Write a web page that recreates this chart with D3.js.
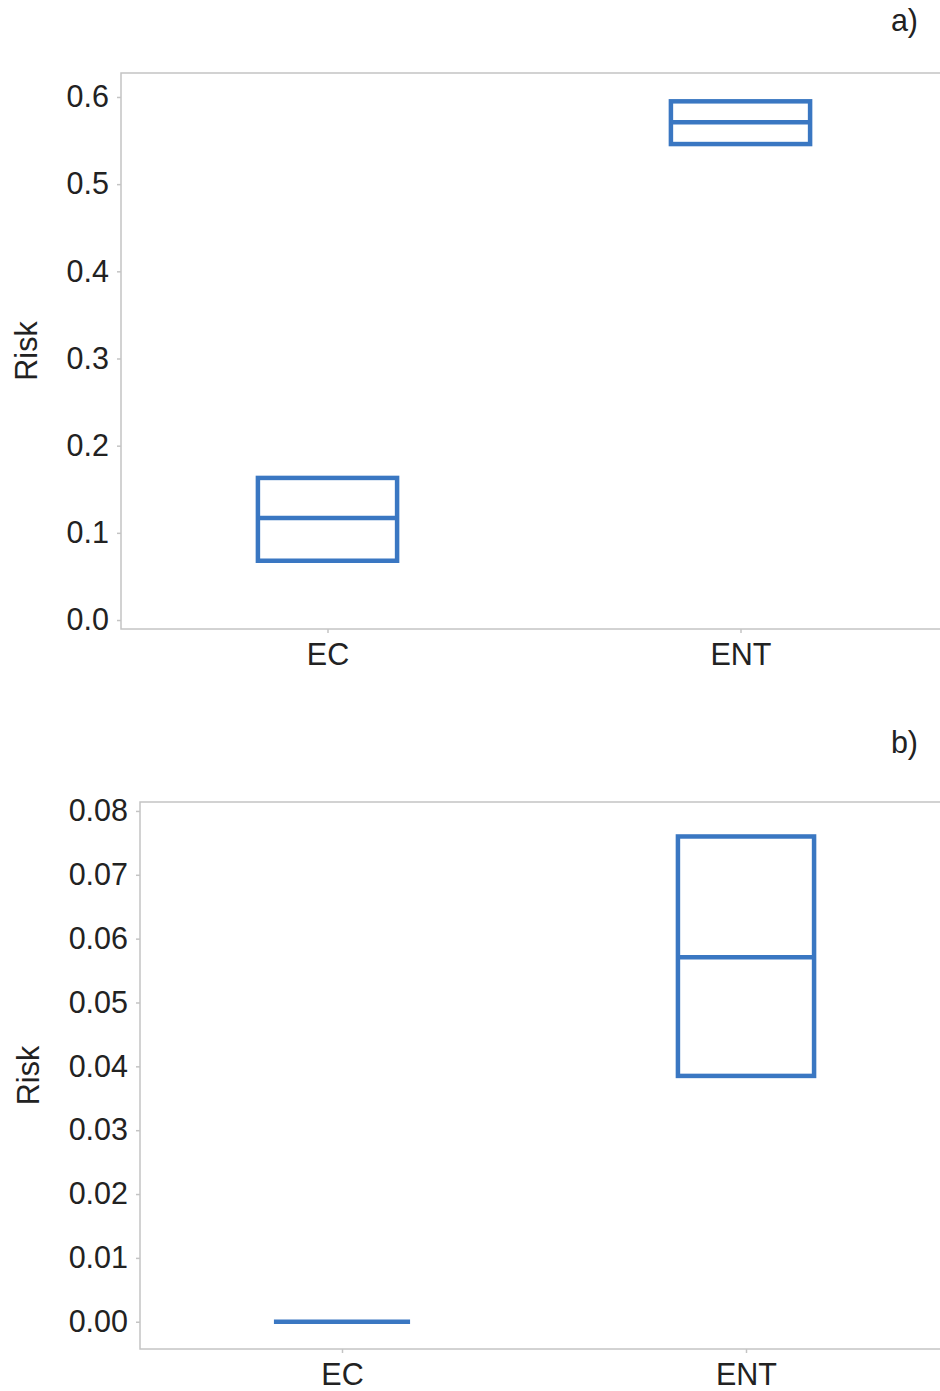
<!DOCTYPE html>
<html>
<head>
<meta charset="utf-8">
<script src="https://cdn.jsdelivr.net/npm/d3@7"></script>
<style>
  html, body { margin: 0; padding: 0; background: #fff; }
  svg { display: block; font-family: "Liberation Sans", Arial, sans-serif; }
</style>
</head>
<body>
<svg id="chart" width="940" height="1391"></svg>
<script>
// Risk ranges by group (lower bound, central estimate, upper bound)
const categories = ["EC", "ENT"];

const riskALow = [0.068, 0.546];
const riskAMid = [0.117, 0.571];
const riskAHigh = [0.163, 0.595];
const ticksA = [0.0, 0.1, 0.2, 0.3, 0.4, 0.5, 0.6];

const riskBLow = [0.0, 0.0385];
const riskBMid = [0.0, 0.0571];
const riskBHigh = [0.0, 0.0760];
const ticksB = [0.00, 0.01, 0.02, 0.03, 0.04, 0.05, 0.06, 0.07, 0.08];

const svg = d3.select("#chart");
const boxColor = "#3a77c2";
const axisColor = "#c4c4c4";
const textColor = "#222";
const fontSize = "30.5px";

function panel(opts) {
  const { left, top, bottom, right, step, domain, ticks, fmt, low, mid, high, tag, tagY, titleX } = opts;
  const g = svg.append("g");

  const x = d3.scalePoint().domain(categories).range([left, left + step * 2]).padding(0.5);
  const y = d3.scaleLinear().domain(domain).range([bottom, top]);
  const boxW = step * 0.337;

  // frame
  g.append("rect")
    .attr("x", left).attr("y", top)
    .attr("width", right - left).attr("height", bottom - top)
    .attr("fill", "none").attr("stroke", axisColor).attr("stroke-width", 1.5);

  // y axis
  const yAxis = d3.axisLeft(y).tickValues(ticks).tickFormat(fmt).tickSize(4).tickPadding(8);
  const ya = g.append("g").attr("transform", `translate(${left},0)`).call(yAxis);
  ya.select(".domain").remove();
  ya.selectAll(".tick line").attr("stroke", axisColor).attr("stroke-width", 1.5);
  ya.selectAll(".tick text").attr("fill", textColor).style("font-size", fontSize)
    .attr("font-family", "Liberation Sans, Arial, sans-serif");

  // x axis
  const xAxis = d3.axisBottom(x).tickSize(4).tickPadding(10);
  const xa = g.append("g").attr("transform", `translate(0,${bottom})`).call(xAxis);
  xa.select(".domain").remove();
  xa.selectAll(".tick line").attr("stroke", axisColor).attr("stroke-width", 1.5);
  xa.selectAll(".tick text").attr("fill", textColor).style("font-size", fontSize)
    .attr("font-family", "Liberation Sans, Arial, sans-serif");

  // boxes
  const rows = categories.map((c, i) => ({ c, lo: low[i], md: mid[i], hi: high[i] }));
  const bx = g.append("g");
  rows.forEach(d => {
    const x0 = x(d.c) - boxW / 2;
    if (d.hi > d.lo) {
      bx.append("rect")
        .attr("x", x0).attr("y", y(d.hi))
        .attr("width", boxW).attr("height", y(d.lo) - y(d.hi))
        .attr("fill", "none").attr("stroke", boxColor).attr("stroke-width", 4.5);
    }
    bx.append("line")
      .attr("x1", x0).attr("x2", x0 + boxW)
      .attr("y1", y(d.md)).attr("y2", y(d.md))
      .attr("stroke", boxColor).attr("stroke-width", 4.5);
  });

  // y title
  g.append("text")
    .attr("transform", `translate(${titleX},${(top + bottom) / 2}) rotate(-90)`)
    .attr("text-anchor", "middle").attr("dy", "0.35em")
    .attr("fill", textColor).style("font-size", fontSize)
    .text("Risk");

  // panel tag
  g.append("text")
    .attr("x", 918).attr("y", tagY)
    .attr("text-anchor", "end").attr("dy", "0.35em")
    .attr("fill", textColor).style("font-size", fontSize)
    .text(tag);
}

panel({
  left: 121, top: 73, bottom: 629, right: 960, step: 413,
  domain: [-0.0103, 0.6275], ticks: ticksA, fmt: d3.format(".1f"),
  low: riskALow, mid: riskAMid, high: riskAHigh,
  tag: "a)", tagY: 20, titleX: 26
});

panel({
  left: 140, top: 802, bottom: 1349, right: 960, step: 404,
  domain: [-0.00427, 0.0814], ticks: ticksB, fmt: d3.format(".2f"),
  low: riskBLow, mid: riskBMid, high: riskBHigh,
  tag: "b)", tagY: 742, titleX: 28
});
</script>
</body>
</html>
